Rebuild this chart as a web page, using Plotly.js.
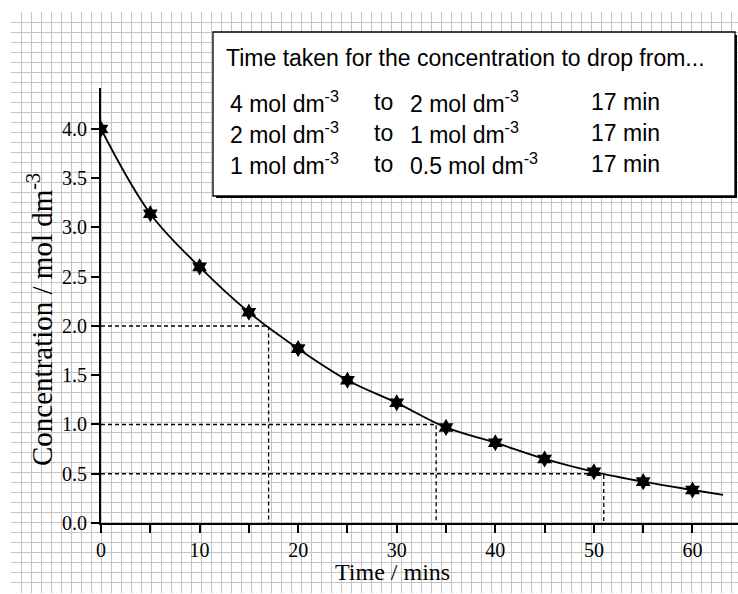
<!DOCTYPE html>
<html>
<head>
<meta charset="utf-8">
<script src="https://cdn.plot.ly/plotly-3.0.1.min.js"></script>
<style>html,body{margin:0;padding:0;background:#fff;}#chart{width:738px;height:594px;}</style>
</head>
<body>
<div id="chart"></div>
<script>
// ---- data ----
const timeMin = [0, 5, 10, 15, 20, 25, 30, 35, 40, 45, 50, 55, 60];
const concentration = [4.00, 3.14, 2.60, 2.14, 1.77, 1.45, 1.22, 0.97, 0.815, 0.65, 0.52, 0.42, 0.335];
// hand-drawn best-fit curve: passes through the points and runs on to the end
const curveEndTime = [63.1];
const curveEndConc = [0.285];
// half-life construction lines
const halfEndConc = [2, 1, 0.5];
const halfEndTime = [17, 34, 51];
const halfLifeMin = [17, 17, 17];
const fromLabels = ['4 mol dm<sup>-3</sup>', '2 mol dm<sup>-3</sup>', '1 mol dm<sup>-3</sup>'];
const toLabels = ['2 mol dm<sup>-3</sup>', '1 mol dm<sup>-3</sup>', '0.5 mol dm<sup>-3</sup>'];
const boxTitle = 'Time taken for the concentration to drop from...';
const xTitle = 'Time / mins';
const yTitle = 'Concentration / mol dm<sup>-3</sup>';

// ---- helpers: pixel -> paper fraction ----
const W = 738, H = 594;
const fx = p => p / W;
const fy = p => 1 - p / H;

const serif = 'Liberation Serif, Times New Roman, serif';
const sans = 'Liberation Sans, Arial, sans-serif';

const traces = [];
// empty trace to hold the graph-paper subplot
traces.push({x: [], y: [], xaxis: 'x', yaxis: 'y', type: 'scatter', hoverinfo: 'skip'});

// dashed construction lines
halfEndTime.forEach((t, i) => {
  traces.push({
    x: [0, t, t], y: [halfEndConc[i], halfEndConc[i], 0],
    xaxis: 'x2', yaxis: 'y2', type: 'scatter', mode: 'lines',
    line: {color: '#000', width: 1.3, dash: '4px,3px'}, hoverinfo: 'skip'
  });
});

// smooth curve
traces.push({
  x: timeMin.concat(curveEndTime), y: concentration.concat(curveEndConc),
  xaxis: 'x2', yaxis: 'y2', type: 'scatter', mode: 'lines',
  line: {color: '#000', width: 1.8, shape: 'spline', smoothing: 1}
});

// measured points
traces.push({
  x: timeMin, y: concentration, xaxis: 'x2', yaxis: 'y2', type: 'scatter', mode: 'markers',
  marker: {symbol: 'hexagram', size: 13, color: '#000', line: {width: 0}}
});

const annotations = [];
annotations.push({xref: 'paper', yref: 'paper', x: fx(224), y: fy(58), xanchor: 'left', yanchor: 'middle',
  text: boxTitle, showarrow: false, font: {family: sans, size: 23, color: '#000'}});
const rowY = [102, 133, 164];
fromLabels.forEach((lab, i) => {
  annotations.push({xref: 'paper', yref: 'paper', x: fx(228), y: fy(rowY[i]), xanchor: 'left', yanchor: 'middle',
    text: lab, showarrow: false, font: {family: sans, size: 23, color: '#000'}});
  annotations.push({xref: 'paper', yref: 'paper', x: fx(372), y: fy(rowY[i]), xanchor: 'left', yanchor: 'middle',
    text: 'to', showarrow: false, font: {family: sans, size: 23, color: '#000'}});
  annotations.push({xref: 'paper', yref: 'paper', x: fx(408), y: fy(rowY[i]), xanchor: 'left', yanchor: 'middle',
    text: toLabels[i], showarrow: false, font: {family: sans, size: 23, color: '#000'}});
  annotations.push({xref: 'paper', yref: 'paper', x: fx(589), y: fy(rowY[i]), xanchor: 'left', yanchor: 'middle',
    text: halfLifeMin[i] + ' min', showarrow: false, font: {family: sans, size: 23, color: '#000'}});
});
annotations.push({xref: 'paper', yref: 'paper', x: fx(392), y: fy(572), xanchor: 'center', yanchor: 'middle',
  text: xTitle, showarrow: false, font: {family: serif, size: 24, color: '#000'}});
annotations.push({xref: 'paper', yref: 'paper', x: fx(40), y: fy(320), xanchor: 'center', yanchor: 'middle',
  text: yTitle, textangle: -90, showarrow: false, font: {family: serif, size: 29, color: '#000'}});

const shapes = [
  {type: 'rect', xref: 'paper', yref: 'paper', x0: fx(216), x1: fx(737), y0: fy(35), y1: fy(198),
   fillcolor: '#000', line: {width: 0}, layer: 'above'},
  {type: 'rect', xref: 'paper', yref: 'paper', x0: fx(213), x1: fx(735), y0: fy(32), y1: fy(196),
   fillcolor: '#fff', line: {color: '#000', width: 1.3}, layer: 'above'}
];

const tickStyle = {ticks: 'outside', ticklen: 8, tickwidth: 2, tickcolor: '#000'};

const layout = {
  width: W, height: H,
  margin: {l: 0, r: 0, t: 0, b: 0, pad: 0},
  paper_bgcolor: '#fff', plot_bgcolor: 'rgba(0,0,0,0)',
  showlegend: false,
  // graph paper
  xaxis: {domain: [10.5 / W, 1], range: [10.5, 738], tickmode: 'linear', tick0: 11, dtick: 10,
    showgrid: true, gridcolor: '#c4c4c4', gridwidth: 1, showticklabels: false, ticks: '',
    zeroline: false, showline: false, fixedrange: true},
  yaxis: {domain: [1.5 / H, 582.5 / H], range: [1.5, 582.5], tickmode: 'linear', tick0: 2, dtick: 10,
    showgrid: true, gridcolor: '#c4c4c4', gridwidth: 1, showticklabels: false, ticks: '',
    zeroline: false, showline: false, fixedrange: true},
  // chart axes
  xaxis2: Object.assign({domain: [101 / W, 1], range: [0, 64.62], anchor: 'y2',
    tickmode: 'linear', tick0: 0, dtick: 10,
    minor: {tickmode: 'linear', tick0: 0, dtick: 5, ticks: 'outside', ticklen: 8, tickwidth: 2, tickcolor: '#000', showgrid: false},
    showline: true, linewidth: 2, linecolor: '#000', showgrid: false, zeroline: false,
    tickfont: {family: serif, size: 20, color: '#000'}}, tickStyle),
  yaxis2: Object.assign({domain: [71 / H, 506 / H], range: [0, 4.416], anchor: 'x2',
    tickmode: 'linear', tick0: 0, dtick: 0.5, tickformat: '.1f',
    showline: true, linewidth: 2, linecolor: '#000', showgrid: false, zeroline: false,
    tickfont: {family: serif, size: 20, color: '#000'}}, tickStyle),
  annotations: annotations,
  shapes: shapes
};

Plotly.newPlot('chart', traces, layout, {staticPlot: true, displayModeBar: false});
</script>
</body>
</html>
